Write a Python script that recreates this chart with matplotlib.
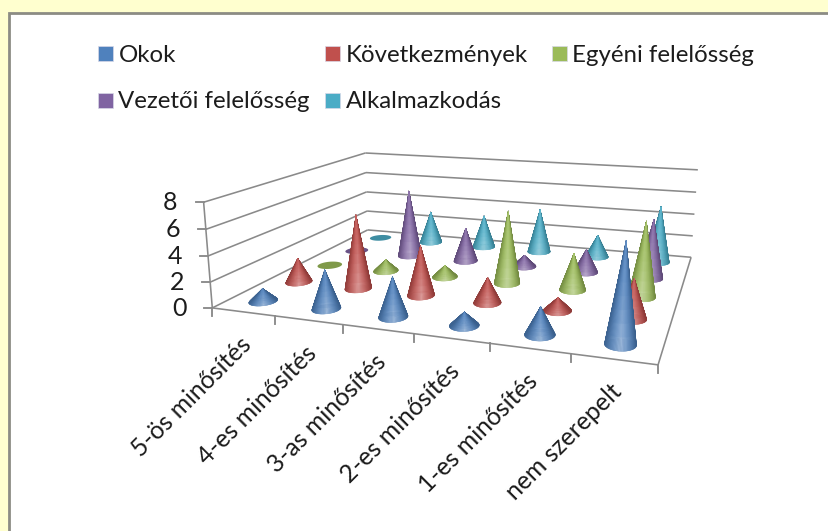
import numpy as np
import matplotlib
matplotlib.use("Agg")
import matplotlib.pyplot as plt
from matplotlib.collections import PolyCollection
from matplotlib.patches import Rectangle
from matplotlib.colors import to_rgb

categories = ["5-ös minősítés", "4-es minősítés", "3-as minősítés",
              "2-es minősítés", "1-es minősítés", "nem szerepelt"]
series_names = ["Okok", "Következmények", "Egyéni felelősség",
                "Vezetői felelősség", "Alkalmazkodás"]
okok = [1, 3, 3, 1, 2, 7]
kovetkezmenyek = [2, 6, 4, 2, 1, 3]
egyeni = [0, 1, 1, 6, 3, 6]
vezetoi = [0, 6, 3, 1, 2, 5]
alkalmazkodas = [0, 3, 3, 4, 2, 5]
series_values = [okok, kovetkezmenyek, egyeni, vezetoi, alkalmazkodas]
colors = ["#4F81BD", "#C0504D", "#9BBB59", "#8064A2", "#4BACC6"]
y_ticks = [0, 2, 4, 6, 8]

FONT = "Lato"
n_cat, n_ser, z_max = len(categories), len(series_names), y_ticks[-1]

# camera calibration: box corners (cat, series, value) -> figure pixels
calib = [((0, 0, 0), (212, 308)), ((0, 0, 8), (204, 202)),
         ((0, 5, 0), (368, 230)), ((0, 5, 8), (365, 153)),
         ((6, 5, 0), (691, 257)), ((6, 5, 8), (698, 170)),
         ((6, 0, 0), (658, 365))]
A, b = [], []
for (X, Y, Z), (px, py) in calib:
    A.append([X, Y, Z, 1, 0, 0, 0, 0, -px * X, -px * Y, -px * Z])
    b.append(px)
    A.append([0, 0, 0, 0, X, Y, Z, 1, -py * X, -py * Y, -py * Z])
    b.append(py)
sol = np.linalg.lstsq(np.array(A, float), np.array(b, float), rcond=None)[0]
P = np.append(sol, 1.0).reshape(3, 4)


def project(x, y, z):
    x, y, z = np.broadcast_arrays(np.asarray(x, float), np.asarray(y, float), np.asarray(z, float))
    h = P @ np.stack([x.ravel(), y.ravel(), z.ravel(), np.ones(x.size)])
    return (h[0] / h[2]).reshape(x.shape), (h[1] / h[2]).reshape(x.shape), h[2].reshape(x.shape)


fig = plt.figure(figsize=(8.29, 5.31), dpi=100, facecolor="#FFFFCF")
ax = fig.add_axes([0, 0, 1, 1])
ax.set_xlim(0, 829)
ax.set_ylim(531, 0)
ax.axis("off")

# card
ax.add_patch(Rectangle((9.5, 12.5), 840, 540, fc="white", ec="#8C8C84", lw=2.0, zorder=0))

GRID = "#8A8A8A"
LW = 1.15


def seg(p, q, **kw):
    xs, ys, _ = project([p[0], q[0]], [p[1], q[1]], [p[2], q[2]])
    ax.plot(xs, ys, color=GRID, lw=LW, solid_capstyle="butt", zorder=1, **kw)


# walls and floor
for z in y_ticks:
    seg((0, 0, z), (0, n_ser, z))
    seg((0, n_ser, z), (n_cat, n_ser, z))
    x0, y0, _ = project(0, 0, z)
    ax.plot([x0 - 8, x0], [y0, y0], color=GRID, lw=LW + 0.2, zorder=1)
    ax.text(x0 - 26, y0 + 0.5, str(z), ha="right", va="center", fontsize=18,
            family=FONT, color="#1c1c1c")
seg((0, 0, 0), (0, 0, z_max))
seg((0, 0, 0), (n_cat, 0, 0))
seg((n_cat, 0, 0), (n_cat, n_ser, 0))
for i in range(n_cat + 1):
    x0, y0, _ = project(i, 0, 0)
    ax.plot([x0, x0], [y0, y0 + 8], color=GRID, lw=LW + 0.2, zorder=1)
for i, lab in enumerate(categories):
    x0, y0, _ = project(i + 0.5, 0, 0)
    ax.text(x0 - 4, y0 + 21, lab, rotation=45, rotation_mode="anchor", ha="right", va="top",
            fontsize=17.8, family=FONT, color="#1c1c1c")

# cones
RU, RV = 0.19, 0.228
NA, NH = 72, 8
theta = np.linspace(0, 2 * np.pi, NA + 1)


def mix(c, t, amount):
    c = np.asarray(c)
    return c + (np.asarray(t) - c) * amount


for j in range(n_ser - 1, -1, -1):
    base = np.array(to_rgb(colors[j]))
    for i in range(n_cat):
        val = series_values[j][i]
        cx, cy = i + 0.5, j + 0.5
        bx, by, _ = project(cx + RU * np.cos(theta), cy + RV * np.sin(theta), 0 * theta)
        ax.fill(bx, by, fc=mix(base, (0, 0, 0), 0.18), ec="none", zorder=2 + (n_ser - j))
        if val <= 0:
            continue
        xc = bx.mean()
        hw = (bx.max() - bx.min()) / 2
        polys, cols, depth = [], [], []
        for k in range(NA):
            t0, t1 = theta[k], theta[k + 1]
            bxk, _, wb = project(cx + RU * np.cos(t0), cy + RV * np.sin(t0), 0)
            s = min(abs((float(bxk) - xc) / hw + 0.05), 1.0)
            for m in range(NH):
                f0, f1 = m / NH, (m + 1) / NH
                ux = [cx + RU * (1 - f0) * np.cos(t0), cx + RU * (1 - f0) * np.cos(t1),
                      cx + RU * (1 - f1) * np.cos(t1), cx + RU * (1 - f1) * np.cos(t0)]
                uy = [cy + RV * (1 - f0) * np.sin(t0), cy + RV * (1 - f0) * np.sin(t1),
                      cy + RV * (1 - f1) * np.sin(t1), cy + RV * (1 - f1) * np.sin(t0)]
                uz = [val * f0, val * f0, val * f1, val * f1]
                px, py, _ = project(ux, uy, uz)
                polys.append(np.column_stack([px, py]))
                glow = 1 - f0
                col = mix(base, (0, 0, 0), 0.26 * s ** 2.2)
                col = mix(col, (1, 1, 1), 0.36 * (1 - s) ** 1.4 * (0.35 + 0.85 * glow ** 2))
                cols.append(np.clip(col, 0, 1))
                depth.append(float(wb))
        order = np.argsort(depth, kind="stable")[::-1]
        ax.add_collection(PolyCollection([polys[o] for o in order],
                                         facecolors=[cols[o] for o in order],
                                         edgecolors=[cols[o] for o in order],
                                         linewidths=0.25, zorder=2 + (n_ser - j)))

# legend
legend_pos = [(98, 53.5), (325, 53.5), (552, 53.5), (98, 100.5), (325, 100.5)]
for (lx, ly), name, c in zip(legend_pos, series_names, colors):
    ax.add_patch(Rectangle((lx, ly - 7.5), 15, 15, fc=c, ec="#D8D8E8", lw=0.5, zorder=5))
    ax.text(lx + 20.5, ly + 1.5, name, ha="left", va="center", fontsize=17.3, family=FONT,
            color="#1c1c1c", zorder=5)

fig.savefig("out.png", dpi=100, facecolor=fig.get_facecolor())
